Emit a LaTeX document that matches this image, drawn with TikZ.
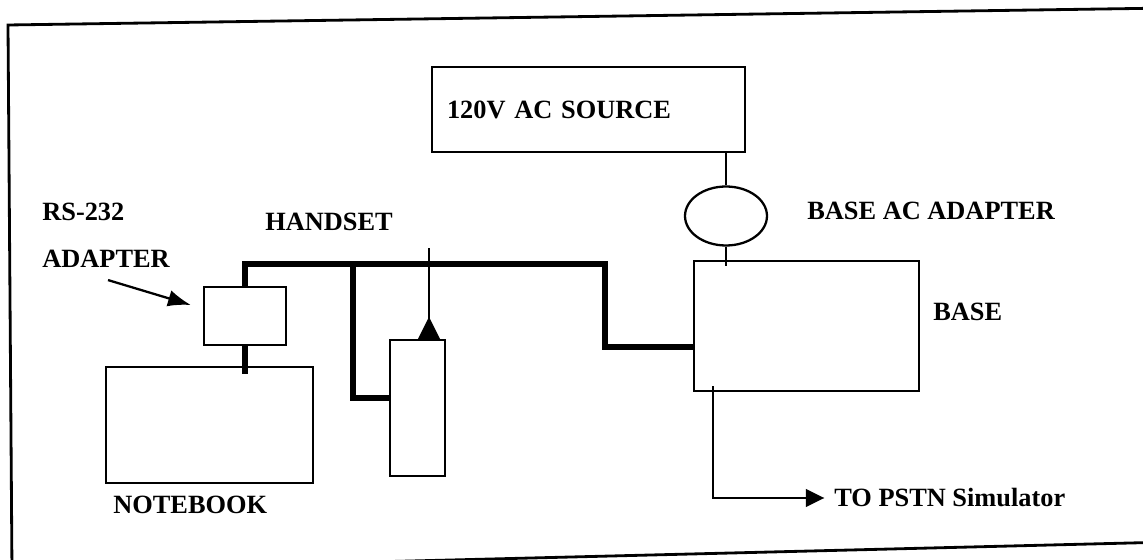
\documentclass[tikz,border=0pt]{standalone}
\usepackage{fontspec}
\setmainfont{Liberation Serif}
\usetikzlibrary{arrows.meta,shapes.geometric}
\tikzset{
  box/.style={draw=black, line width=1.3pt, inner sep=0pt},
  acbox/.style={ellipse, draw=black, line width=1.3pt, inner sep=0pt, minimum width=1.64cm, minimum height=1.18cm},
  lbl/.style={inner sep=0pt, anchor=west, font=\bfseries\fontsize{15}{18}\selectfont},
  wire/.style={line width=3.4pt},
  thinline/.style={line width=1.3pt},
  arrow/.style={-{Triangle[length=10.5pt, width=10pt]}, line width=1.3pt},
  pointer/.style={-{Latex[length=13pt, width=9.5pt]}, line width=1.3pt},
  frame/.style={line width=1.6pt}
}

\begin{document}
\begin{tikzpicture}[x=0.02cm, y=-0.02cm]
  \useasboundingbox (0,0) rectangle (1143,560);
  \begin{scope}
    \clip (0,0) rectangle (1143,560);
    \draw[frame] (12,571) -- (8,25) -- (1170,8) -- (1170,542) -- cycle;
  \end{scope}

  % boxes
  \node[box, minimum width=6.26cm, minimum height=1.7cm, text width=5.66cm, align=left,
        font=\bfseries\fontsize{15}{18}\selectfont] (source) at (588.5,109.5) {120V AC SOURCE};
  \node[acbox] (acadapter) at (726,216) {};
  \node[box, minimum width=4.5cm, minimum height=2.6cm] (base) at (806.5,326) {};
  \node[box, minimum width=1.64cm, minimum height=1.16cm] (adapter) at (245,316) {};
  \node[box, minimum width=4.14cm, minimum height=2.32cm] (notebook) at (209.5,425) {};
  \node[box, minimum width=1.1cm, minimum height=2.72cm] (handset) at (417.5,408) {};

  % labels
  \node[lbl] (rslbl) at (42,212) {RS-232};
  \node[lbl] (adaptlbl) at (42,259) {ADAPTER};
  \node[lbl] (handsetlbl) at (265,222) {HANDSET};
  \node[lbl] (acadlbl) at (807,211) {BASE AC ADAPTER};
  \node[lbl] (baselbl) at (933,312) {BASE};
  \node[lbl] (notebooklbl) at (113,505) {NOTEBOOK};
  \node[lbl] (pstnlbl) at (834,498) {TO PSTN Simulator};

  % power
  \draw[thinline] (acadapter.north |- source.south) -- (acadapter.north);
  \draw[thinline, shorten >=-3.4pt] (acadapter.south) -- (acadapter.south |- base.north);
  \draw[arrow, shorten >=5.5pt] ([shift={(20,-6)}]base.south west) |- (pstnlbl.west);

  % serial wiring
  \draw[pointer] ([shift={(2,12)}]adaptlbl.south) -- ([shift={(-12,-11)}]adapter.west);
  \coordinate (jtop) at (605,264);
  \coordinate (jbranch) at (353,264);
  \draw[wire] (adapter.north) |- (jtop) |- ([yshift=-0.42cm]base.west);
  \draw[wire] (jbranch) |- ([yshift=0.2cm]handset.west);
  \draw[wire, shorten >=-4.5pt] (adapter.south) -- (adapter.south |- notebook.north);

  % antenna
  \coordinate (ant) at ([xshift=0.23cm]handset.north);
  \draw[thinline] (ant) -- ++(0,-91);
  \fill (ant) ++(0,-22) -- ++(11,22) -- ++(-22,0) -- cycle;
\end{tikzpicture}
\end{document}
